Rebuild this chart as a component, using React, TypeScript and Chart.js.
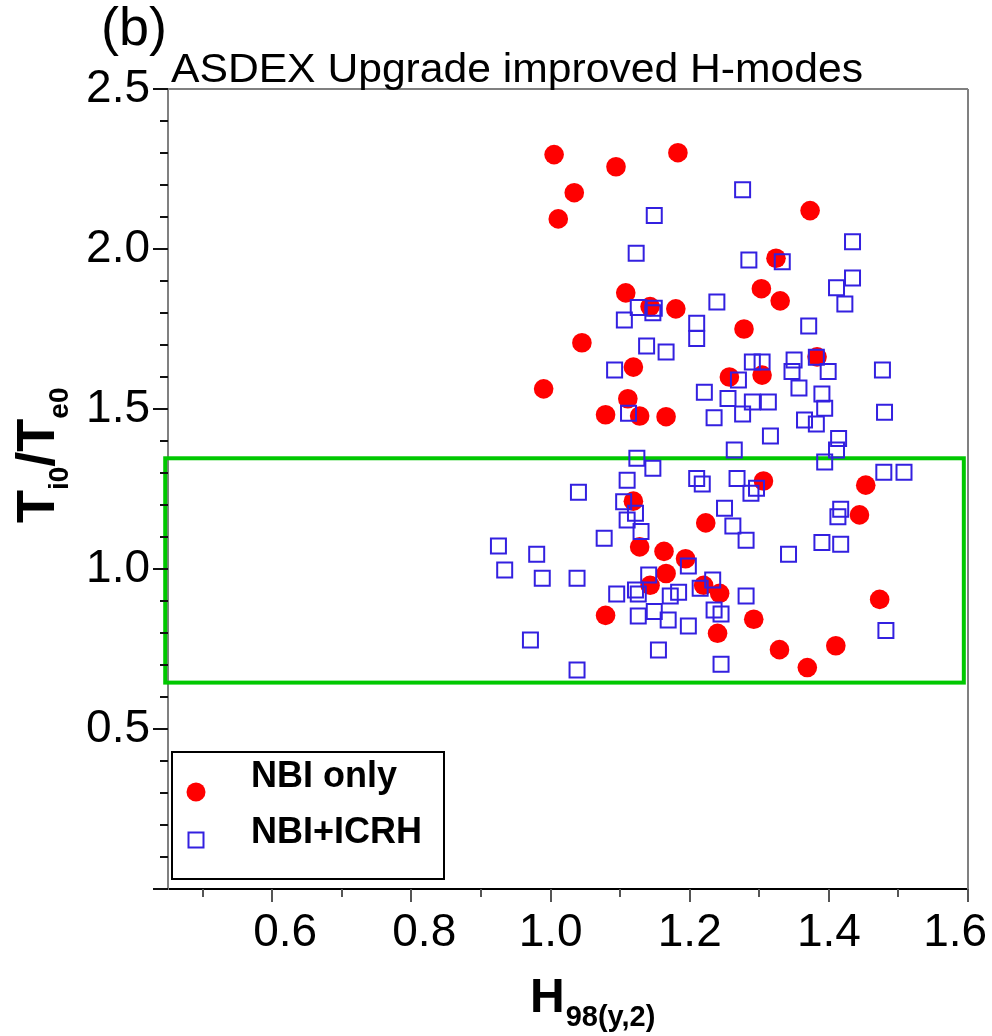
import React, { useEffect, useRef } from 'react';
import { Chart, registerables } from 'chart.js';

Chart.register(...registerables);

// ---- data ----
const seriesNames = ['NBI only', 'NBI+ICRH'];
const titleText = 'ASDEX Upgrade improved H-modes';
const panelLabel = '(b)';

const nbiOnlyH = [1.005, 1.094, 1.183, 1.034, 1.011, 1.108, 1.143, 1.180, 1.045, 1.119, 0.990, 1.111, 1.079, 1.128, 1.166, 1.373, 1.324, 1.303, 1.330, 1.278, 1.383, 1.257, 1.304, 1.119, 1.128, 1.163, 1.194, 1.166, 1.143, 1.223, 1.220, 1.243, 1.079, 1.240, 1.306, 1.453, 1.444, 1.292, 1.473, 1.329, 1.410, 1.369];
const nbiOnlyT = [2.295, 2.257, 2.301, 2.176, 2.094, 1.863, 1.820, 1.813, 1.707, 1.631, 1.563, 1.532, 1.482, 1.478, 1.476, 2.120, 1.971, 1.876, 1.838, 1.750, 1.663, 1.600, 1.606, 1.212, 1.069, 1.055, 1.032, 0.986, 0.949, 1.144, 0.949, 0.924, 0.855, 0.799, 1.275, 1.262, 1.169, 0.843, 0.905, 0.748, 0.760, 0.692];

const icrhH = [
  1.149, 1.123, 1.126, 1.149, 1.147, 1.106, 1.239, 1.210, 1.210, 1.138, 1.166, 1.092, 1.221, 1.255, 1.235, 1.112,
  1.276, 1.434, 1.285, 1.333, 1.434, 1.411, 1.423, 1.371, 1.290, 1.304, 1.350, 1.382, 1.347, 1.399, 1.477, 1.270, 1.290, 1.313, 1.357, 1.390, 1.394, 1.276, 1.480, 1.365, 1.382, 1.316, 1.414, 1.411, 1.264,
  1.394, 1.479, 1.508, 1.268, 1.288, 1.296, 1.250, 1.262, 1.281, 1.342, 1.417, 1.413, 1.390, 1.417, 1.233, 1.281, 1.235, 1.245, 1.482, 1.245,
  1.124, 1.147, 1.110, 1.040, 1.210, 1.218, 1.105, 1.122, 1.110, 1.130, 1.077, 0.925, 0.980, 0.934, 0.988, 1.038, 1.141, 1.198, 1.095, 1.122, 1.126, 1.172, 1.184, 1.215, 1.126, 1.149, 1.169, 1.198, 0.971, 1.155, 1.038,
];
const icrhT = [
  2.105, 1.987, 1.817, 1.815, 1.801, 1.778, 1.834, 1.768, 1.720, 1.697, 1.678, 1.622, 1.552, 1.533, 1.473, 1.487,
  2.185, 2.023, 1.966, 1.960, 1.909, 1.879, 1.828, 1.759, 1.647, 1.647, 1.653, 1.662, 1.617, 1.617, 1.622, 1.591, 1.522, 1.522, 1.566, 1.547, 1.502, 1.484, 1.490, 1.466, 1.453, 1.416, 1.408, 1.372, 1.372,
  1.334, 1.302, 1.302, 1.283, 1.237, 1.252, 1.190, 1.134, 1.090, 1.046, 1.187, 1.163, 1.083, 1.077, 0.966, 0.916, 0.872, 0.859, 0.808, 0.702,
  1.346, 1.315, 1.277, 1.240, 1.283, 1.266, 1.210, 1.174, 1.153, 1.117, 1.096, 1.072, 1.046, 0.997, 0.971, 0.971, 0.981, 1.009, 0.922, 0.934, 0.922, 0.916, 0.927, 0.940, 0.853, 0.867, 0.841, 0.822, 0.778, 0.747, 0.684,
];

const xTickValues = [0.6, 0.8, 1.0, 1.2, 1.4, 1.6];
// labels as printed in the original (non-breaking spaces nudge the outer ones as in the figure)
const xTickLabels = ['\u00a0\u00a00.6', '\u00a0\u00a00.8', '1.0', '1.2', '1.4', '1.6\u00a0\u00a0'];
const yTickValues = [0, 0.5, 1.0, 1.5, 2.0, 2.5];
const yTickLabels = ['', '0.5', '1.0', '1.5', '2.0', '2.5'];
const xMinorStep = 0.1;
const yMinorStep = 0.1;
const X_MIN = 0.45;
const X_MAX = 1.6;
const Y_MIN = 0;
const Y_MAX = 2.5;
const windowH = [0.446, 1.594];
const windowT = [0.645, 1.346];

// ---- style ----
const FONT = '"Liberation Sans", Arial, Helvetica, sans-serif';
const RED = '#ff0000';
const BLUE = '#3320e0';
const GREEN = '#00c800';

const decor = {
  id: 'decor',
  beforeDatasetsDraw(chart: any) {
    const { ctx, scales } = chart;
    const x = scales.x, y = scales.y;
    const l = x.getPixelForValue(windowH[0]);
    const r = x.getPixelForValue(windowH[1]);
    const t = y.getPixelForValue(windowT[1]);
    const b = y.getPixelForValue(windowT[0]);
    ctx.save();
    ctx.strokeStyle = GREEN;
    ctx.lineWidth = 4;
    ctx.strokeRect(l, t, r - l, b - t);
    ctx.restore();
  },
  afterDraw(chart: any) {
    const { ctx, chartArea, scales } = chart;
    const x = scales.x, y = scales.y;
    const { left, right, top, bottom } = chartArea;
    ctx.save();
    // top & right frame
    ctx.strokeStyle = '#808080';
    ctx.lineWidth = 2;
    ctx.beginPath();
    ctx.moveTo(left, top);
    ctx.lineTo(right, top);
    ctx.moveTo(right, top);
    ctx.lineTo(right, bottom);
    ctx.stroke();

    // y ticks (major every 0.5, minor every 0.1)
    ctx.strokeStyle = '#111';
    ctx.lineWidth = 2;
    const nY = Math.round((Y_MAX - Y_MIN) / yMinorStep);
    ctx.beginPath();
    for (let k = 0; k <= nY; k++) {
      const v = Y_MIN + k * yMinorStep;
      const py = Math.round(y.getPixelForValue(v));
      const isMajor = yTickValues.some((t) => Math.abs(t - v) < 1e-6);
      const len = isMajor ? 15 : 8;
      ctx.moveTo(left - len, py);
      ctx.lineTo(left, py);
    }
    ctx.stroke();

    // x ticks
    ctx.strokeStyle = '#555';
    ctx.beginPath();
    const k0 = Math.ceil(X_MIN / xMinorStep - 1e-6);
    const k1 = Math.floor(X_MAX / xMinorStep + 1e-6);
    for (let k = k0; k <= k1; k++) {
      const v = k * xMinorStep;
      const px = Math.round(x.getPixelForValue(v));
      const isMajor = xTickValues.some((t) => Math.abs(t - v) < 1e-6);
      const len = isMajor ? 13 : 8;
      ctx.moveTo(px, bottom);
      ctx.lineTo(px, bottom + len);
    }
    ctx.stroke();

    // panel label and title
    ctx.fillStyle = '#000';
    ctx.textBaseline = 'alphabetic';
    ctx.textAlign = 'left';
    ctx.font = `54px ${FONT}`;
    ctx.fillText(panelLabel, 101, 45);

    ctx.font = `40px ${FONT}`;
    const tw = ctx.measureText(titleText).width;
    ctx.save();
    ctx.translate(171, 82);
    ctx.scale(692 / tw, 1);
    ctx.fillText(titleText, 0, 0);
    ctx.restore();

    // x-axis title H_98(y,2)
    ctx.font = `bold 48px ${FONT}`;
    ctx.fillText('H', 530, 1012);
    const hw = ctx.measureText('H').width;
    ctx.font = `bold 29px ${FONT}`;
    ctx.fillText('98(y,2)', 530 + hw + 1, 1026);

    // y-axis title T_i0 / T_e0 (rotated)
    ctx.save();
    ctx.translate(54, 523);
    ctx.rotate(-Math.PI / 2);
    let cx = 0;
    const parts: [string, number, number][] = [
      ['T', 54, 0],
      ['i0', 28, 14],
      ['/', 54, 0],
      ['T', 54, 0],
      ['e0', 28, 14],
    ];
    for (const [s, size, dy] of parts) {
      ctx.font = `bold ${size}px ${FONT}`;
      ctx.fillText(s, cx, dy);
      cx += ctx.measureText(s).width;
    }
    ctx.restore();

    // legend box
    ctx.fillStyle = '#fff';
    ctx.fillRect(172, 752, 272, 127);
    ctx.strokeStyle = '#000';
    ctx.lineWidth = 2;
    ctx.strokeRect(172, 752, 272, 127);
    ctx.fillStyle = RED;
    ctx.beginPath();
    ctx.arc(196, 792, 9.5, 0, Math.PI * 2);
    ctx.fill();
    ctx.strokeStyle = BLUE;
    ctx.lineWidth = 2;
    ctx.strokeRect(188.5, 832.5, 15, 15);
    ctx.fillStyle = '#000';
    ctx.font = `bold 36px ${FONT}`;
    ctx.fillText(seriesNames[0], 251, 787);
    ctx.fillText(seriesNames[1], 251, 843);
    ctx.restore();
  },
};

export default function App() {
  const ref = useRef<HTMLCanvasElement>(null);
  useEffect(() => {
    if (!ref.current) return;
    const chart = new Chart(ref.current, {
      type: 'scatter',
      data: {
        datasets: [
          {
            label: seriesNames[1],
            data: icrhH.map((h, i) => ({ x: h, y: icrhT[i] })),
            pointStyle: 'rect',
            pointRadius: 10.6,
            pointHoverRadius: 10.6,
            borderColor: BLUE,
            borderWidth: 2,
            backgroundColor: 'rgba(0,0,0,0)',
            order: 0,
          },
          {
            label: seriesNames[0],
            data: nbiOnlyH.map((h, i) => ({ x: h, y: nbiOnlyT[i] })),
            pointStyle: 'circle',
            pointRadius: 9.8,
            pointHoverRadius: 9.8,
            borderWidth: 0,
            borderColor: RED,
            backgroundColor: RED,
            order: 1,
          },
        ],
      },
      options: {
        responsive: false,
        animation: false,
        devicePixelRatio: 1,
        layout: { padding: { left: 0, top: 89, right: 24, bottom: 0 } },
        plugins: {
          legend: { display: false },
          tooltip: { enabled: false },
          title: { display: false },
        },
        scales: {
          x: {
            type: 'linear',
            min: X_MIN,
            max: X_MAX,
            afterBuildTicks: (s: any) => {
              s.ticks = xTickValues.map((v) => ({ value: v }));
            },
            afterFit: (s: any) => {
              s.height = 147;
              s.paddingLeft = 0;
              s.paddingRight = 0;
            },
            grid: { display: false, drawTicks: false },
            border: { display: true, color: '#000', width: 2 },
            ticks: {
              padding: 17,
              autoSkip: false,
              maxRotation: 0,
              minRotation: 0,
              color: '#000',
              font: { family: FONT, size: 46 },
              callback: (_v: any, i: number) => xTickLabels[i],
            },
          },
          y: {
            type: 'linear',
            min: Y_MIN,
            max: Y_MAX,
            afterBuildTicks: (s: any) => {
              s.ticks = yTickValues.map((v) => ({ value: v }));
            },
            afterFit: (s: any) => {
              s.width = 168;
              s.paddingTop = 0;
              s.paddingBottom = 0;
            },
            grid: { display: false, drawTicks: false },
            border: { display: true, color: '#808080', width: 2 },
            ticks: {
              padding: 18,
              autoSkip: false,
              color: '#000',
              font: { family: FONT, size: 46 },
              callback: (_v: any, i: number) => yTickLabels[i],
            },
          },
        },
      },
      plugins: [decor],
    } as any);
    return () => chart.destroy();
  }, []);
  return (
    <div style={{ position: 'absolute', left: 0, top: 0, width: 992, height: 1036, background: '#fff' }}>
      <canvas ref={ref} width={992} height={1036} style={{ display: 'block', width: 992, height: 1036 }} />
    </div>
  );
}
